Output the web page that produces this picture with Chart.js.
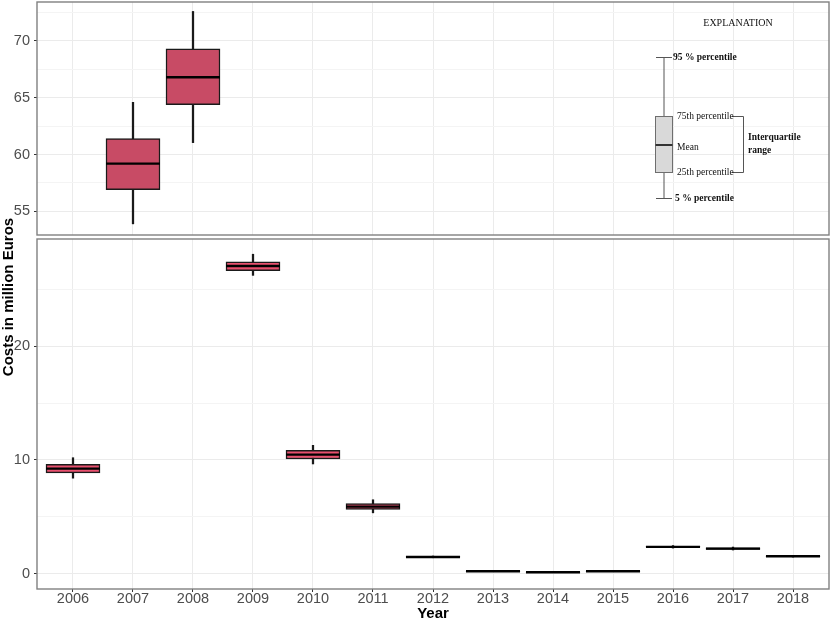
<!DOCTYPE html>
<html>
<head>
<meta charset="utf-8">
<script src="https://cdn.jsdelivr.net/npm/chart.js@4.4.0/dist/chart.umd.min.js"></script>
<style>
  html, body { margin: 0; padding: 0; background: #fff; }
  #wrap { position: relative; width: 832px; height: 621px; }
  #wrap canvas { position: absolute; left: 0; top: 0; }
</style>
</head>
<body>
<div id="wrap">
  <canvas id="chartTop" width="832" height="621"></canvas>
  <canvas id="chartBottom" width="832" height="621"></canvas>
</div>
<script>
// years on the x axis
const years = [2006, 2007, 2008, 2009, 2010, 2011, 2012, 2013, 2014, 2015, 2016, 2017, 2018];
// facet each year is drawn in
const panel = ['bottom', 'top', 'top', 'bottom', 'bottom', 'bottom', 'bottom', 'bottom', 'bottom', 'bottom', 'bottom', 'bottom', 'bottom'];
// costs in million euros: whisker ends, quartiles, median
const whiskerLow  = [8.40, 53.9, 61.05, 26.24, 9.65, 5.35, 1.40, 0.18, 0.09, 0.18, 2.25, 2.08, 1.46];
const boxLow      = [8.86, 56.9, 64.40, 26.65, 10.09, 5.65, 1.44, 0.20, 0.11, 0.20, 2.32, 2.14, 1.50];
const medians     = [9.24, 59.2, 66.80, 27.06, 10.47, 5.90, 1.47, 0.21, 0.12, 0.21, 2.36, 2.20, 1.53];
const boxHigh     = [9.62, 61.4, 69.30, 27.44, 10.85, 6.17, 1.50, 0.22, 0.13, 0.22, 2.40, 2.27, 1.56];
const whiskerHigh = [10.2, 64.6, 72.60, 28.10, 11.29, 6.50, 1.55, 0.24, 0.15, 0.24, 2.47, 2.34, 1.60];

// y tick labels and minor grid lines of each facet
const yTicksTop = [55, 60, 65, 70];
const yMinorTop = [57.5, 62.5, 67.5, 72.5];
const yTicksBottom = [0, 10, 20];
const yMinorBottom = [5, 15, 25];

const sans = "'Liberation Sans', Arial, sans-serif";
const serif = "'Liberation Serif', 'Times New Roman', serif";

function panelData(name, fill) {
  const idx = years.map((y, i) => i).filter(i => panel[i] === name);
  return [
    {
      type: 'line',
      data: idx.map(i => ({ x: years[i], y: medians[i] })),
      showLine: false,
      pointStyle: 'line',
      pointRadius: 27,
      pointHoverRadius: 27,
      pointBorderColor: '#000',
      pointBorderWidth: 2.4,
      order: 0
    },
    {
      type: 'bar',
      data: idx.map(i => ({ x: years[i], y: [boxLow[i], boxHigh[i]] })),
      backgroundColor: fill,
      borderColor: '#1a1a1a',
      borderWidth: 1.5,
      borderSkipped: false,
      barThickness: 54,
      grouped: false,
      order: 1
    },
    {
      type: 'bar',
      data: idx.map(i => ({ x: years[i], y: [whiskerLow[i], whiskerHigh[i]] })),
      backgroundColor: '#1a1a1a',
      borderWidth: 0,
      barThickness: 1.6,
      grouped: false,
      order: 2
    }
  ];
}

function yAxis(min, max, major, minor) {
  return {
    type: 'linear',
    min: min,
    max: max,
    beginAtZero: false,
    afterBuildTicks: s => {
      s.ticks = major.concat(minor).sort((a, b) => a - b).map(v => ({ value: v }));
    },
    afterFit: s => { s.width = 37; s.paddingTop = 0; s.paddingBottom = 0; },
    ticks: {
      autoSkip: false,
      padding: 4,
      color: '#4d4d4d',
      font: { family: sans, size: 14.5 },
      callback: v => major.includes(v) ? String(v) : ''
    },
    grid: {
      color: c => minor.includes(c.tick.value) ? '#f4f4f4' : '#ebebeb',
      lineWidth: 1,
      tickLength: 3,
      tickColor: c => minor.includes(c.tick.value) ? 'rgba(0,0,0,0)' : '#333'
    },
    border: { display: false }
  };
}

// grey frame round each facet
const frame = {
  id: 'frame',
  afterDraw(chart) {
    const a = chart.chartArea;
    const ctx = chart.ctx;
    ctx.save();
    ctx.strokeStyle = '#808080';
    ctx.lineWidth = 1.4;
    ctx.strokeRect(a.left, a.top, a.right - a.left, a.bottom - a.top);
    ctx.restore();
  }
};

// the EXPLANATION key in the upper facet
const explanation = {
  id: 'explanation',
  afterDatasetsDraw(chart) {
    const ctx = chart.ctx;
    ctx.save();
    ctx.fillStyle = '#111';
    ctx.textBaseline = 'middle';
    ctx.font = '10px ' + serif;
    ctx.textAlign = 'center';
    ctx.fillText('EXPLANATION', 738, 23);

    ctx.strokeStyle = '#555';
    ctx.lineWidth = 1;
    ctx.beginPath();
    ctx.moveTo(664, 57); ctx.lineTo(664, 198);
    ctx.moveTo(656, 57.5); ctx.lineTo(672, 57.5);
    ctx.moveTo(656, 198.5); ctx.lineTo(672, 198.5);
    ctx.stroke();

    ctx.fillStyle = '#d9d9d9';
    ctx.fillRect(655, 116, 17, 56);
    ctx.strokeStyle = '#6e6e6e';
    ctx.strokeRect(655.5, 116.5, 17, 56);
    ctx.strokeStyle = '#333';
    ctx.lineWidth = 2;
    ctx.beginPath();
    ctx.moveTo(655.5, 145); ctx.lineTo(672.5, 145);
    ctx.stroke();

    ctx.strokeStyle = '#555';
    ctx.lineWidth = 1;
    ctx.beginPath();
    ctx.moveTo(732, 116.5); ctx.lineTo(743.5, 116.5); ctx.lineTo(743.5, 172.5); ctx.lineTo(732, 172.5);
    ctx.stroke();

    ctx.fillStyle = '#111';
    ctx.textAlign = 'left';
    ctx.font = 'bold 9.5px ' + serif;
    ctx.fillText('95 % percentile', 673, 58);
    ctx.fillText('5 % percentile', 675, 199);
    ctx.fillText('Interquartile', 748, 138);
    ctx.fillText('range', 748, 151);
    ctx.font = '9.5px ' + serif;
    ctx.fillText('75th percentile', 677, 116);
    ctx.fillText('Mean', 677, 147);
    ctx.fillText('25th percentile', 677, 172);
    ctx.restore();
  }
};

// shared y axis title, centred on both facets
const yTitle = {
  id: 'yTitle',
  afterDraw(chart) {
    const ctx = chart.ctx;
    ctx.save();
    ctx.translate(9, 297);
    ctx.rotate(-Math.PI / 2);
    ctx.fillStyle = '#000';
    ctx.font = 'bold 15px ' + sans;
    ctx.textAlign = 'center';
    ctx.textBaseline = 'middle';
    ctx.fillText('Costs in million Euros', 0, 0);
    ctx.restore();
  }
};

const common = {
  responsive: false,
  animation: false,
  events: [],
  plugins: { legend: { display: false }, tooltip: { enabled: false } }
};

const chartTop = new Chart(document.getElementById('chartTop'), {
  type: 'bar',
  data: { datasets: panelData('top', '#c84b65') },
  options: Object.assign({}, common, {
    layout: { autoPadding: false, padding: { top: 2, right: 3, bottom: 386, left: 0 } },
    scales: {
      x: {
        type: 'linear',
        min: 2005.4,
        max: 2018.6,
        offset: false,
        afterBuildTicks: s => { s.ticks = years.map(v => ({ value: v })); },
        afterFit: s => { s.height = 0; s.paddingLeft = 0; s.paddingRight = 0; },
        ticks: { display: false },
        grid: { color: '#ebebeb', offset: false, drawTicks: false },
        border: { display: false }
      },
      y: yAxis(52.92, 73.43, yTicksTop, yMinorTop)
    }
  }),
  plugins: [explanation, frame]
});

const chartBottom = new Chart(document.getElementById('chartBottom'), {
  type: 'bar',
  data: { datasets: panelData('bottom', '#e8506e') },
  options: Object.assign({}, common, {
    layout: { autoPadding: false, padding: { top: 239, right: 3, bottom: 0, left: 0 } },
    scales: {
      x: {
        type: 'linear',
        min: 2005.4,
        max: 2018.6,
        offset: false,
        afterBuildTicks: s => { s.ticks = years.map(v => ({ value: v })); },
        afterFit: s => { s.height = 32; s.paddingLeft = 0; s.paddingRight = 0; },
        ticks: {
          autoSkip: false,
          maxRotation: 0,
          padding: -2,
          color: '#4d4d4d',
          font: { family: sans, size: 14.5 },
          callback: v => String(v)
        },
        grid: { color: '#ebebeb', offset: false, tickLength: 3, tickColor: '#333' },
        border: { display: false },
        title: {
          display: true,
          text: 'Year',
          color: '#000',
          padding: { top: 0, bottom: -2 },
          font: { family: sans, size: 15, weight: 'bold' }
        }
      },
      y: yAxis(-1.35, 29.44, yTicksBottom, yMinorBottom)
    }
  }),
  plugins: [frame, yTitle]
});
</script>
</body>
</html>
